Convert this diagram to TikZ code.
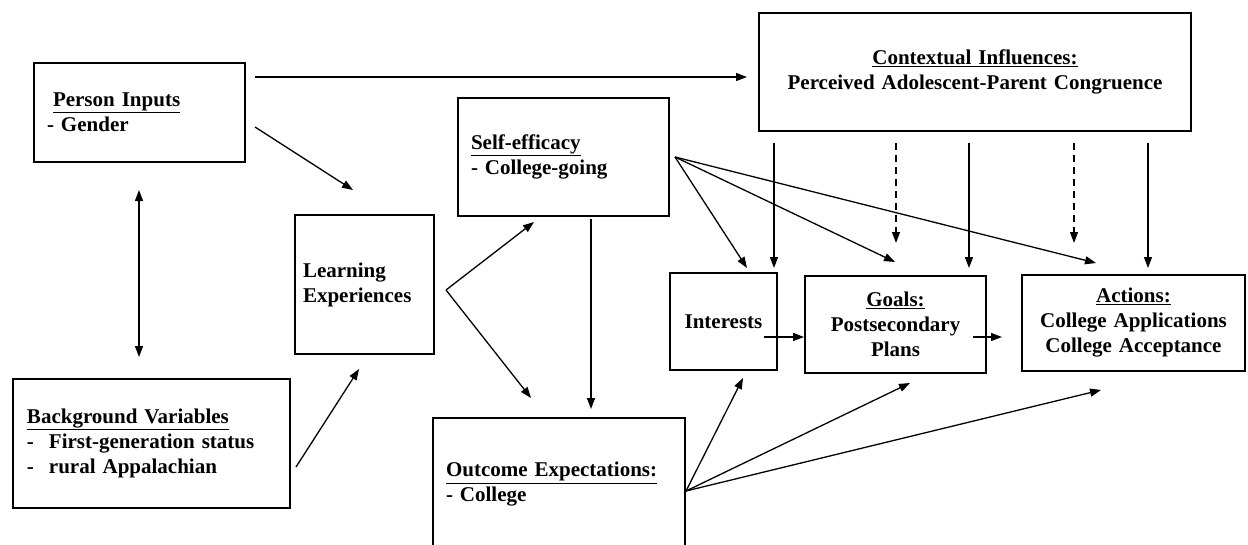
\documentclass[tikz,border=0pt]{standalone}
\usepackage{fontspec}
\setmainfont{Liberation Serif}
\usetikzlibrary{arrows.meta}

\tikzset{
  box/.style={draw, line width=2.6pt, inner ysep=0pt, font=\fontsize{21}{25}\selectfont\bfseries},
  link/.style={line width=1.3pt, -{Triangle[length=11pt,width=8pt]}},
  modlink/.style={link, dash pattern=on 7pt off 5pt},
}

\begin{document}
\begin{tikzpicture}[x=1pt,y=-1pt]
  \useasboundingbox (0,0) rectangle (1248,544);

  % boxes
  \node[box, minimum height=99pt, text width=185pt, inner xsep=13pt, align=left] (pi) at (139.5,112.5)
    {\hspace*{6pt}\underline{Person Inputs}\\- Gender};
  \node[box, minimum height=129pt, text width=249pt, inner xsep=14pt, align=left] (bv) at (151.5,443.5)
    {\underline{Background Variables}\\\makebox[22pt][l]{-}First-generation status\\\makebox[22pt][l]{-}rural Appalachian};
  \node[box, minimum height=139pt, text width=123pt, inner xsep=8pt, align=left] (le) at (364.5,284.5)
    {Learning\\Experiences};
  \node[box, minimum height=118pt, text width=185pt, inner xsep=13pt, align=left] (se) at (563.5,157)
    {\underline{Self-efficacy}\\- College-going};
  \node[box, minimum height=133pt, text width=226pt, inner xsep=13pt, align=left] (oe) at (559,484.5)
    {\underline{Outcome Expectations:}\\- College};
  \node[box, minimum height=118pt, text width=412pt, inner xsep=10pt, align=center] (ci) at (975,72)
    {\underline{Contextual Influences:}\\Perceived Adolescent-Parent Congruence};
  \node[box, minimum height=97pt, text width=97pt, inner xsep=5pt, align=center] (in) at (723.5,321.5)
    {Interests};
  \node[box, minimum height=97pt, text width=171pt, inner xsep=5pt, align=center] (go) at (895.5,324.5)
    {\underline{Goals:}\\Postsecondary\\Plans};
  \node[box, minimum height=96pt, text width=213pt, inner xsep=5pt, align=center] (ac) at (1133.5,323)
    {\underline{Actions:}\\College Applications\\College Acceptance};

  % arrow ends
  \coordinate (pi-ci) at (255,77);
  \coordinate (ci-in) at (747,77);
  \coordinate (pi-le) at (255,127);
  \coordinate (le-pi) at (353,190);
  \coordinate (pi-bv) at (139,190);
  \coordinate (bv-pi) at (139,357);
  \coordinate (bv-le) at (296,467);
  \coordinate (le-bv) at (359,369);
  \coordinate (le-out) at (446,290);
  \coordinate (se-le) at (534,222);
  \coordinate (oe-le) at (531,398);
  \coordinate (se-down) at (591,219);
  \coordinate (oe-se) at (591,409);
  \coordinate (se-out) at (675,157);
  \coordinate (in-se) at (747,268);
  \coordinate (go-se) at (895,262);
  \coordinate (ac-se) at (1096,263);
  \coordinate (oe-out) at (686,491);
  \coordinate (in-oe) at (743,378);
  \coordinate (go-oe) at (910,383);
  \coordinate (ac-oe) at (1101,390);
  \coordinate (in-go) at (764,337);
  \coordinate (go-in) at (804,337);
  \coordinate (go-ac) at (973,337);
  \coordinate (ac-go) at (1002,337);

  % connectors
  \draw[link] (pi-ci) -- (ci-in);
  \draw[link] (pi-le) -- (le-pi);
  \draw[link, {Triangle[length=11pt,width=8pt]}-{Triangle[length=11pt,width=8pt]}] (pi-bv) -- (bv-pi);
  \draw[link] (bv-le) -- (le-bv);
  \draw[link] (le-out) -- (se-le);
  \draw[link] (le-out) -- (oe-le);
  \draw[link] (se-down) -- (oe-se);
  \draw[link] (se-out) -- (in-se);
  \draw[link] (se-out) -- (go-se);
  \draw[link] (se-out) -- (ac-se);
  \draw[link] (oe-out) -- (in-oe);
  \draw[link] (oe-out) -- (go-oe);
  \draw[link] (oe-out) -- (ac-oe);
  \draw[link] (in-go) -- (go-in);
  \draw[link] (go-ac) -- (ac-go);

  % contextual influences
  \foreach \cx/\cy/\sty in {774/268/link, 896/243/modlink, 969/268/link, 1074/243/modlink, 1148/268/link}
    \draw[\sty] (ci.south -| \cx,0) ++(0,11) -- (\cx,\cy);
\end{tikzpicture}
\end{document}
